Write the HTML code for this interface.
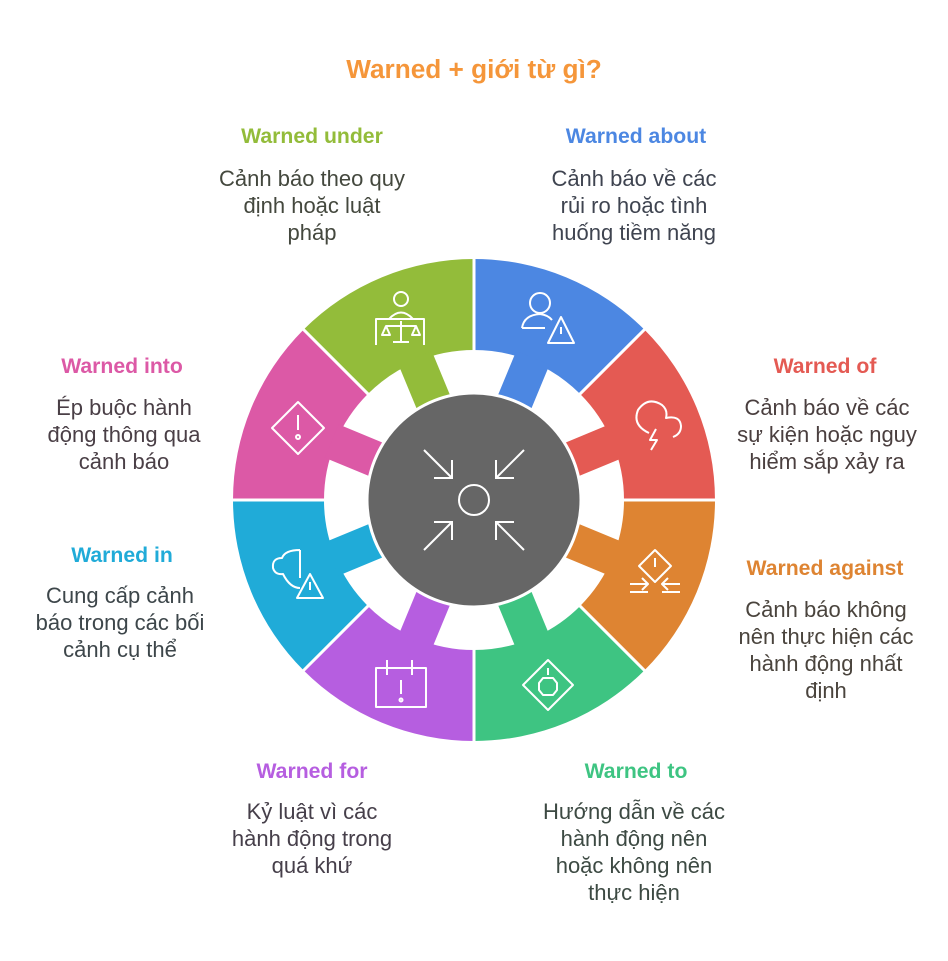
<!DOCTYPE html>
<html><head><meta charset="utf-8"><style>
body{margin:0;background:#fff;}
svg{display:block;}
text{font-family:"Liberation Sans",sans-serif;}
.t{font-weight:bold;font-size:21.2px;text-anchor:middle;}
.d{font-size:22px;text-anchor:middle;}
</style></head><body>
<svg width="948" height="961" viewBox="0 0 948 961" xmlns="http://www.w3.org/2000/svg">
<rect width="948" height="961" fill="#fff"/>
<text x="474" y="78" class="t" style="font-size:26.2px" fill="#F5963A">Warned + giới từ gì?</text>

<defs>
<g id="sec">
<path d="M0,-241 A241,241 0 0 1 170.4,-170.4 L106.07,-106.07 A150,150 0 0 0 0,-150 Z"/>
<rect x="-18" y="-154" width="36" height="56" transform="rotate(22.5)"/>
</g>
</defs>
<g transform="translate(474,500)">
<use href="#sec" fill="#4C87E2" transform="rotate(0)"/>
<use href="#sec" fill="#E45A53" transform="rotate(45)"/>
<use href="#sec" fill="#DE8432" transform="rotate(90)"/>
<use href="#sec" fill="#3EC482" transform="rotate(135)"/>
<use href="#sec" fill="#B65EE0" transform="rotate(180)"/>
<use href="#sec" fill="#20ABD8" transform="rotate(225)"/>
<use href="#sec" fill="#DC59A6" transform="rotate(270)"/>
<use href="#sec" fill="#93BC3A" transform="rotate(315)"/>
<g stroke="#fff" stroke-width="3">
<line x1="0" y1="-100" x2="0" y2="-245"/>
<line x1="0" y1="100" x2="0" y2="245"/>
<line x1="-100" y1="0" x2="-245" y2="0"/>
<line x1="100" y1="0" x2="245" y2="0"/>
<line x1="71" y1="-71" x2="174" y2="-174"/>
<line x1="-71" y1="-71" x2="-174" y2="-174"/>
<line x1="71" y1="71" x2="174" y2="174"/>
<line x1="-71" y1="71" x2="-174" y2="174"/>
</g>
<circle r="107" fill="#666" stroke="#fff" stroke-width="3"/>
<g stroke="#fff" stroke-width="2" fill="none">
<circle r="15"/>
<path d="M-50,-50 L-22,-22 M-22,-40 L-22,-22 L-40,-22"/>
<path d="M50,-50 L22,-22 M22,-40 L22,-22 L40,-22"/>
<path d="M-50,50 L-22,22 M-22,40 L-22,22 L-40,22"/>
<path d="M50,50 L22,22 M22,40 L22,22 L40,22"/>
</g>
</g>

<g stroke="#fff" stroke-width="2" fill="none" stroke-linejoin="round">
<circle cx="401" cy="299" r="7"/>
<path d="M376,345 V319 H424 V345 M389,319 Q401,306 413,319 M401,321 V342 M393,342 H409 M386,326 H416 M386,326 L382,335 L390,335 Z M416,326 L412,335 L420,335 Z"/>
<circle cx="540" cy="303" r="10"/>
<path d="M522,328 Q524,315 540,314 Q548,315 552,320 M522,328 H545"/>
<path d="M561,317 L574,343 L548,343 Z M561,327 V334"/>
<path d="M649,433 Q632,425 638,410 Q648,396 662,405 Q668,410 666,418 Q680,415 681,426 Q681,434 673,437 M656,429 L650,440 L657,440 L651,450"/>
<path d="M655,550 L671,566 L655,582 L639,566 Z M655,558 V567"/>
<path d="M630,584 H648 M642,578 L648,584 L642,590 M630,592 H648 M680,584 H662 M668,578 L662,584 L668,590 M680,592 H662"/>
<path d="M548,660 L573,685 L548,710 L523,685 Z"/>
<path d="M543,678 H553 L557,683 V690 L553,695 H543 L539,690 V683 Z M548,668 V675"/>
<path d="M376,668 H426 V707 H376 Z M387,660 V675 M412,660 V675 M390,668 H410 M401,680 V694"/>
<circle cx="401" cy="700" r="1.5"/>
<path d="M300,550 Q285,550 282,558 Q272,558 273,568 Q275,575 283,574 Q290,588 300,588 M300,550 V578"/>
<path d="M310,574 L323,598 L297,598 Z M310,582 V590"/>
<path d="M298,402 L324,428 L298,454 L272,428 Z M298,415 V430"/>
<circle cx="298" cy="437" r="2"/>
</g>

<text x="312" y="143" class="t" fill="#93BC3A">Warned under</text>
<g class="d" fill="#44483e"><text x="312" y="186">Cảnh báo theo quy</text><text x="312" y="213">định hoặc luật</text><text x="312" y="240">pháp</text></g>

<text x="636" y="143" class="t" fill="#4C87E2">Warned about</text>
<g class="d" fill="#3f4450"><text x="634" y="186">Cảnh báo về các</text><text x="634" y="213">rủi ro hoặc tình</text><text x="634" y="240">huống tiềm năng</text></g>

<text x="825" y="373" class="t" fill="#E45A53">Warned of</text>
<g class="d" fill="#4a3f3f"><text x="827" y="415">Cảnh báo về các</text><text x="827" y="442">sự kiện hoặc nguy</text><text x="827" y="469">hiểm sắp xảy ra</text></g>

<text x="825" y="575" class="t" fill="#DE8432">Warned against</text>
<g class="d" fill="#4a443d"><text x="826" y="617">Cảnh báo không</text><text x="826" y="644">nên thực hiện các</text><text x="826" y="671">hành động nhất</text><text x="826" y="698">định</text></g>

<text x="636" y="778" class="t" fill="#3EC482">Warned to</text>
<g class="d" fill="#3d4a43"><text x="634" y="819">Hướng dẫn về các</text><text x="634" y="846">hành động nên</text><text x="634" y="873">hoặc không nên</text><text x="634" y="900">thực hiện</text></g>

<text x="312" y="778" class="t" fill="#B65EE0">Warned for</text>
<g class="d" fill="#463f4a"><text x="312" y="819">Kỷ luật vì các</text><text x="312" y="846">hành động trong</text><text x="312" y="873">quá khứ</text></g>

<text x="122" y="562" class="t" fill="#20ABD8">Warned in</text>
<g class="d" fill="#3d464a"><text x="120" y="603">Cung cấp cảnh</text><text x="120" y="630">báo trong các bối</text><text x="120" y="657">cảnh cụ thể</text></g>

<text x="122" y="373" class="t" fill="#DC59A6">Warned into</text>
<g class="d" fill="#4a3f46"><text x="124" y="415">Ép buộc hành</text><text x="124" y="442">động thông qua</text><text x="124" y="469">cảnh báo</text></g>
</svg>
</body></html>
